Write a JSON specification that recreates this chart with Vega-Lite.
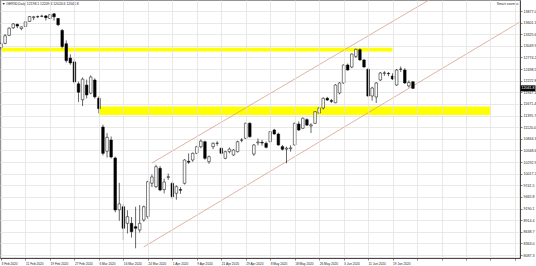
{
  "$schema": "https://vega.github.io/schema/vega-lite/v6.json",
  "width": 520,
  "height": 258,
  "autosize": {"type": "none"},
  "padding": {"left": 0, "top": 0, "right": 16, "bottom": 8},
  "background": "white",
  "config": {
    "font": "Liberation Sans",
    "view": {"stroke": "#555555", "strokeWidth": 0.8},
    "axis": {"gridColor": "#e3e3e3", "gridWidth": 0.8, "domainColor": "#333333", "domainWidth": 0.8, "tickColor": "#333333", "tickWidth": 0.6, "labelColor": "#222222", "title": null}
  },
  "datasets": {
    "ohlc": [
      {"d":"2020-02-03","o":13010,"h":13130,"l":12960,"c":13100},
      {"d":"2020-02-04","o":13110,"h":13330,"l":13090,"c":13290},
      {"d":"2020-02-05","o":13300,"h":13490,"l":13280,"c":13470},
      {"d":"2020-02-06","o":13480,"h":13590,"l":13450,"c":13570},
      {"d":"2020-02-07","o":13560,"h":13580,"l":13470,"c":13520},
      {"d":"2020-02-10","o":13460,"h":13510,"l":13420,"c":13500},
      {"d":"2020-02-11","o":13510,"h":13640,"l":13500,"c":13620},
      {"d":"2020-02-12","o":13630,"h":13760,"l":13620,"c":13745},
      {"d":"2020-02-13","o":13720,"h":13760,"l":13660,"c":13740},
      {"d":"2020-02-14","o":13740,"h":13770,"l":13710,"c":13745},
      {"d":"2020-02-17","o":13750,"h":13790,"l":13730,"c":13755},
      {"d":"2020-02-18","o":13760,"h":13780,"l":13650,"c":13720},
      {"d":"2020-02-19","o":13700,"h":13800,"l":13690,"c":13790},
      {"d":"2020-02-20","o":13810,"h":13825,"l":13650,"c":13740},
      {"d":"2020-02-21","o":13700,"h":13710,"l":13520,"c":13550},
      {"d":"2020-02-24","o":13416,"h":13450,"l":12990,"c":13035},
      {"d":"2020-02-25","o":13100,"h":13180,"l":12650,"c":12700},
      {"d":"2020-02-26","o":12760,"h":12850,"l":12600,"c":12645},
      {"d":"2020-02-27","o":12670,"h":12740,"l":12150,"c":12195},
      {"d":"2020-02-28","o":12150,"h":12200,"l":11720,"c":11950},
      {"d":"2020-03-02","o":11770,"h":12300,"l":11620,"c":12260},
      {"d":"2020-03-03","o":12120,"h":12250,"l":11800,"c":11885},
      {"d":"2020-03-04","o":11930,"h":12350,"l":11900,"c":12310},
      {"d":"2020-03-05","o":12240,"h":12280,"l":11800,"c":11840},
      {"d":"2020-03-06","o":11810,"h":11850,"l":11450,"c":11560},
      {"d":"2020-03-09","o":11124,"h":11180,"l":10450,"c":10500},
      {"d":"2020-03-10","o":10550,"h":10980,"l":10400,"c":10880},
      {"d":"2020-03-11","o":10817,"h":10900,"l":10380,"c":10413},
      {"d":"2020-03-12","o":10390,"h":10420,"l":9100,"c":9156},
      {"d":"2020-03-13","o":9160,"h":9800,"l":8900,"c":9300},
      {"d":"2020-03-16","o":9234,"h":9300,"l":8444,"c":8722},
      {"d":"2020-03-17","o":8840,"h":9150,"l":8600,"c":8997},
      {"d":"2020-03-18","o":8840,"h":8990,"l":8500,"c":8641},
      {"d":"2020-03-19","o":8760,"h":9234,"l":8247,"c":8722},
      {"d":"2020-03-20","o":8682,"h":9274,"l":8620,"c":8840},
      {"d":"2020-03-23","o":8919,"h":9260,"l":8880,"c":9234},
      {"d":"2020-03-24","o":8997,"h":9850,"l":8950,"c":9827},
      {"d":"2020-03-25","o":9790,"h":10000,"l":9700,"c":9940},
      {"d":"2020-03-26","o":9709,"h":10230,"l":9680,"c":10183},
      {"d":"2020-03-27","o":10145,"h":10200,"l":9600,"c":9630},
      {"d":"2020-03-30","o":9640,"h":9900,"l":9550,"c":9820},
      {"d":"2020-03-31","o":9930,"h":10020,"l":9870,"c":9946},
      {"d":"2020-04-01","o":9789,"h":9830,"l":9420,"c":9471},
      {"d":"2020-04-02","o":9552,"h":9740,"l":9400,"c":9709},
      {"d":"2020-04-03","o":9640,"h":9700,"l":9540,"c":9625},
      {"d":"2020-04-06","o":9789,"h":10360,"l":9760,"c":10342},
      {"d":"2020-04-07","o":10310,"h":10500,"l":10250,"c":10290},
      {"d":"2020-04-08","o":10342,"h":10520,"l":10300,"c":10501},
      {"d":"2020-04-09","o":10501,"h":10680,"l":10480,"c":10658},
      {"d":"2020-04-14","o":10658,"h":10830,"l":10620,"c":10790},
      {"d":"2020-04-15","o":10776,"h":10800,"l":10350,"c":10382},
      {"d":"2020-04-16","o":10302,"h":10450,"l":10250,"c":10420},
      {"d":"2020-04-17","o":10658,"h":10760,"l":10600,"c":10738},
      {"d":"2020-04-20","o":10738,"h":10790,"l":10680,"c":10740},
      {"d":"2020-04-21","o":10620,"h":10650,"l":10480,"c":10501},
      {"d":"2020-04-22","o":10382,"h":10560,"l":10360,"c":10539},
      {"d":"2020-04-23","o":10540,"h":10640,"l":10500,"c":10600},
      {"d":"2020-04-24","o":10461,"h":10600,"l":10440,"c":10579},
      {"d":"2020-04-27","o":10539,"h":10800,"l":10520,"c":10776},
      {"d":"2020-04-28","o":10810,"h":10860,"l":10760,"c":10817},
      {"d":"2020-04-29","o":10857,"h":11230,"l":10840,"c":11213},
      {"d":"2020-04-30","o":11213,"h":11240,"l":10870,"c":10895},
      {"d":"2020-05-04","o":10484,"h":10720,"l":10440,"c":10698},
      {"d":"2020-05-05","o":10750,"h":10850,"l":10690,"c":10770},
      {"d":"2020-05-06","o":10760,"h":10820,"l":10680,"c":10745},
      {"d":"2020-05-07","o":10738,"h":10780,"l":10620,"c":10643},
      {"d":"2020-05-08","o":10776,"h":11030,"l":10760,"c":11013},
      {"d":"2020-05-11","o":11054,"h":11080,"l":10940,"c":10959},
      {"d":"2020-05-12","o":10959,"h":10990,"l":10680,"c":10698},
      {"d":"2020-05-13","o":10658,"h":10700,"l":10570,"c":10596},
      {"d":"2020-05-14","o":10600,"h":10660,"l":10264,"c":10620},
      {"d":"2020-05-15","o":10610,"h":10690,"l":10540,"c":10630},
      {"d":"2020-05-18","o":10698,"h":11230,"l":10690,"c":11213},
      {"d":"2020-05-19","o":11196,"h":11260,"l":11030,"c":11054},
      {"d":"2020-05-20","o":11094,"h":11350,"l":11080,"c":11331},
      {"d":"2020-05-21","o":11300,"h":11330,"l":11150,"c":11170},
      {"d":"2020-05-22","o":11150,"h":11213,"l":10983,"c":11175},
      {"d":"2020-05-25","o":11213,"h":11500,"l":11200,"c":11488},
      {"d":"2020-05-26","o":11457,"h":11600,"l":11440,"c":11576},
      {"d":"2020-05-27","o":11576,"h":11830,"l":11540,"c":11806},
      {"d":"2020-05-28","o":11806,"h":11840,"l":11740,"c":11766},
      {"d":"2020-05-29","o":11750,"h":11790,"l":11694,"c":11735},
      {"d":"2020-06-01","o":11700,"h":12140,"l":11690,"c":12121},
      {"d":"2020-06-02","o":11932,"h":12190,"l":11900,"c":12169},
      {"d":"2020-06-03","o":12169,"h":12610,"l":12150,"c":12596},
      {"d":"2020-06-04","o":12596,"h":12630,"l":12460,"c":12477},
      {"d":"2020-06-05","o":12548,"h":12870,"l":12520,"c":12857},
      {"d":"2020-06-08","o":12800,"h":12985,"l":12760,"c":12968},
      {"d":"2020-06-09","o":12960,"h":12990,"l":12700,"c":12715},
      {"d":"2020-06-10","o":12715,"h":12740,"l":12530,"c":12548},
      {"d":"2020-06-11","o":12494,"h":12520,"l":11840,"c":11860},
      {"d":"2020-06-12","o":11860,"h":12080,"l":11750,"c":12050},
      {"d":"2020-06-15","o":11837,"h":12190,"l":11694,"c":12169},
      {"d":"2020-06-16","o":12240,"h":12430,"l":12220,"c":12406},
      {"d":"2020-06-17","o":12400,"h":12450,"l":12340,"c":12408},
      {"d":"2020-06-18","o":12395,"h":12430,"l":12330,"c":12390},
      {"d":"2020-06-19","o":12335,"h":12400,"l":12240,"c":12264},
      {"d":"2020-06-22","o":12121,"h":12500,"l":12100,"c":12477},
      {"d":"2020-06-23","o":12500,"h":12560,"l":12430,"c":12495},
      {"d":"2020-06-24","o":12477,"h":12520,"l":12150,"c":12169},
      {"d":"2020-06-25","o":12100,"h":12230,"l":12060,"c":12180},
      {"d":"2020-06-26","o":12198.1,"h":12209.4,"l":12024.6,"c":12041.8}
    ],
    "zones": [
      {"d":"2020-02-03","d2":"2020-06-19","y":12916,"y2":13006},
      {"d":"2020-03-06","d2":"2020-07-23","y":11410,"y2":11611}
    ],
    "channel": [
      {"d":"2020-03-25","d2":"2020-07-21","y":10271,"y2":14880},
      {"d":"2020-03-23","d2":"2020-08-03","y":8280,"y2":13604}
    ]
  },
  "layer": [
    {
      "data": {"name": "zones"},
      "mark": {"type": "rect", "color": "#ffff00", "opacity": 1},
      "encoding": {
        "x": {"field": "d", "type": "ordinal",
          "scale": {"type": "point", "padding": 0.245, "domain": ["2020-02-03","2020-02-04","2020-02-05","2020-02-06","2020-02-07","2020-02-10","2020-02-11","2020-02-12","2020-02-13","2020-02-14","2020-02-17","2020-02-18","2020-02-19","2020-02-20","2020-02-21","2020-02-24","2020-02-25","2020-02-26","2020-02-27","2020-02-28","2020-03-02","2020-03-03","2020-03-04","2020-03-05","2020-03-06","2020-03-09","2020-03-10","2020-03-11","2020-03-12","2020-03-13","2020-03-16","2020-03-17","2020-03-18","2020-03-19","2020-03-20","2020-03-23","2020-03-24","2020-03-25","2020-03-26","2020-03-27","2020-03-30","2020-03-31","2020-04-01","2020-04-02","2020-04-03","2020-04-06","2020-04-07","2020-04-08","2020-04-09","2020-04-14","2020-04-15","2020-04-16","2020-04-17","2020-04-20","2020-04-21","2020-04-22","2020-04-23","2020-04-24","2020-04-27","2020-04-28","2020-04-29","2020-04-30","2020-05-04","2020-05-05","2020-05-06","2020-05-07","2020-05-08","2020-05-11","2020-05-12","2020-05-13","2020-05-14","2020-05-15","2020-05-18","2020-05-19","2020-05-20","2020-05-21","2020-05-22","2020-05-25","2020-05-26","2020-05-27","2020-05-28","2020-05-29","2020-06-01","2020-06-02","2020-06-03","2020-06-04","2020-06-05","2020-06-08","2020-06-09","2020-06-10","2020-06-11","2020-06-12","2020-06-15","2020-06-16","2020-06-17","2020-06-18","2020-06-19","2020-06-22","2020-06-23","2020-06-24","2020-06-25","2020-06-26","2020-06-29","2020-06-30","2020-07-01","2020-07-02","2020-07-03","2020-07-06","2020-07-07","2020-07-08","2020-07-09","2020-07-10","2020-07-13","2020-07-14","2020-07-15","2020-07-16","2020-07-17","2020-07-20","2020-07-21","2020-07-22","2020-07-23","2020-07-24","2020-07-27","2020-07-28","2020-07-29","2020-07-30","2020-07-31","2020-08-03"]},
          "axis": {"title": null, "orient": "bottom", "values": ["2020-02-03","2020-02-11","2020-02-19","2020-02-27","2020-03-06","2020-03-16","2020-03-24","2020-04-01","2020-04-09","2020-04-21","2020-04-29","2020-05-08","2020-05-18","2020-05-26","2020-06-03","2020-06-11","2020-06-19","2020-06-29","2020-07-07","2020-07-15","2020-07-23","2020-07-31"],
            "labelExpr": "datum.value <= '2020-06-19' ? utcFormat(toDate(datum.value), '%-d %b %Y') : ''",
            "labelAlign": "left", "labelAngle": 0, "labelFontSize": 3.2, "labelPadding": 1, "tickSize": 2, "grid": true, "labelOverlap": false, "labelBound": false, "labelFlush": false}},
        "x2": {"field": "d2"},
        "y": {"field": "y", "type": "quantitative",
          "scale": {"domain": [8017, 14138], "nice": false, "zero": false},
          "axis": {"title": null, "orient": "right", "tickCount": 40, "values": [13877.0,13601.3,13325.6,13049.9,12774.2,12498.5,12222.8,11947.1,11671.4,11395.7,11120.0,10844.3,10568.6,10292.9,10017.2,9741.5,9465.8,9190.1,8914.4,8638.7,8363.0,8087.3],
            "format": ".1f", "labelFontSize": 3.6, "labelPadding": 1, "tickSize": 2, "grid": true, "labelOverlap": false, "labelBound": false, "labelFlush": false}},
        "y2": {"field": "y2"}
      }
    },
    {
      "data": {"name": "channel"},
      "mark": {"type": "rule", "color": "#d9a08e", "strokeWidth": 0.8, "clip": true},
      "encoding": {
        "x": {"field": "d", "type": "ordinal", "axis": {"title": null, "orient": "bottom", "values": ["2020-02-03","2020-02-11","2020-02-19","2020-02-27","2020-03-06","2020-03-16","2020-03-24","2020-04-01","2020-04-09","2020-04-21","2020-04-29","2020-05-08","2020-05-18","2020-05-26","2020-06-03","2020-06-11","2020-06-19","2020-06-29","2020-07-07","2020-07-15","2020-07-23","2020-07-31"],
            "labelExpr": "datum.value <= '2020-06-19' ? utcFormat(toDate(datum.value), '%-d %b %Y') : ''",
            "labelAlign": "left", "labelAngle": 0, "labelFontSize": 3.2, "labelPadding": 1, "tickSize": 2, "grid": true, "labelOverlap": false, "labelBound": false, "labelFlush": false}},
        "x2": {"field": "d2"},
        "y": {"field": "y", "type": "quantitative", "axis": {"title": null, "orient": "right", "tickCount": 40, "values": [13877.0,13601.3,13325.6,13049.9,12774.2,12498.5,12222.8,11947.1,11671.4,11395.7,11120.0,10844.3,10568.6,10292.9,10017.2,9741.5,9465.8,9190.1,8914.4,8638.7,8363.0,8087.3],
            "format": ".1f", "labelFontSize": 3.6, "labelPadding": 1, "tickSize": 2, "grid": true, "labelOverlap": false, "labelBound": false, "labelFlush": false}},
        "y2": {"field": "y2"}
      }
    },
    {
      "data": {"name": "ohlc"},
      "mark": {"type": "rule", "color": "black", "strokeWidth": 0.6},
      "encoding": {
        "x": {"field": "d", "type": "ordinal", "axis": {"title": null, "orient": "bottom", "values": ["2020-02-03","2020-02-11","2020-02-19","2020-02-27","2020-03-06","2020-03-16","2020-03-24","2020-04-01","2020-04-09","2020-04-21","2020-04-29","2020-05-08","2020-05-18","2020-05-26","2020-06-03","2020-06-11","2020-06-19","2020-06-29","2020-07-07","2020-07-15","2020-07-23","2020-07-31"],
            "labelExpr": "datum.value <= '2020-06-19' ? utcFormat(toDate(datum.value), '%-d %b %Y') : ''",
            "labelAlign": "left", "labelAngle": 0, "labelFontSize": 3.2, "labelPadding": 1, "tickSize": 2, "grid": true, "labelOverlap": false, "labelBound": false, "labelFlush": false}},
        "y": {"field": "l", "type": "quantitative", "axis": {"title": null, "orient": "right", "tickCount": 40, "values": [13877.0,13601.3,13325.6,13049.9,12774.2,12498.5,12222.8,11947.1,11671.4,11395.7,11120.0,10844.3,10568.6,10292.9,10017.2,9741.5,9465.8,9190.1,8914.4,8638.7,8363.0,8087.3],
            "format": ".1f", "labelFontSize": 3.6, "labelPadding": 1, "tickSize": 2, "grid": true, "labelOverlap": false, "labelBound": false, "labelFlush": false}},
        "y2": {"field": "h"}
      }
    },
    {
      "data": {"name": "ohlc"},
      "mark": {"type": "bar", "size": 2.6, "stroke": "black", "strokeWidth": 0.5},
      "encoding": {
        "x": {"field": "d", "type": "ordinal", "axis": {"title": null, "orient": "bottom", "values": ["2020-02-03","2020-02-11","2020-02-19","2020-02-27","2020-03-06","2020-03-16","2020-03-24","2020-04-01","2020-04-09","2020-04-21","2020-04-29","2020-05-08","2020-05-18","2020-05-26","2020-06-03","2020-06-11","2020-06-19","2020-06-29","2020-07-07","2020-07-15","2020-07-23","2020-07-31"],
            "labelExpr": "datum.value <= '2020-06-19' ? utcFormat(toDate(datum.value), '%-d %b %Y') : ''",
            "labelAlign": "left", "labelAngle": 0, "labelFontSize": 3.2, "labelPadding": 1, "tickSize": 2, "grid": true, "labelOverlap": false, "labelBound": false, "labelFlush": false}},
        "y": {"field": "o", "type": "quantitative", "axis": {"title": null, "orient": "right", "tickCount": 40, "values": [13877.0,13601.3,13325.6,13049.9,12774.2,12498.5,12222.8,11947.1,11671.4,11395.7,11120.0,10844.3,10568.6,10292.9,10017.2,9741.5,9465.8,9190.1,8914.4,8638.7,8363.0,8087.3],
            "format": ".1f", "labelFontSize": 3.6, "labelPadding": 1, "tickSize": 2, "grid": true, "labelOverlap": false, "labelBound": false, "labelFlush": false}},
        "y2": {"field": "c"},
        "color": {"condition": {"test": "datum.c >= datum.o", "value": "white"}, "value": "black"}
      }
    },
    {
      "data": {"values": [{"c": 12041.8}]},
      "mark": {"type": "tick", "orient": "horizontal", "size": 15, "thickness": 6, "color": "black", "xOffset": 8, "opacity": 1},
      "encoding": {
        "x": {"value": "width"},
        "y": {"field": "c", "type": "quantitative", "axis": {"title": null, "orient": "right", "tickCount": 40, "values": [13877.0,13601.3,13325.6,13049.9,12774.2,12498.5,12222.8,11947.1,11671.4,11395.7,11120.0,10844.3,10568.6,10292.9,10017.2,9741.5,9465.8,9190.1,8914.4,8638.7,8363.0,8087.3],
            "format": ".1f", "labelFontSize": 3.6, "labelPadding": 1, "tickSize": 2, "grid": true, "labelOverlap": false, "labelBound": false, "labelFlush": false}}
      }
    },
    {
      "data": {"values": [{"c": 12041.8}]},
      "mark": {"type": "text", "align": "left", "baseline": "middle", "dx": 1.5, "fontSize": 3.6, "color": "white"},
      "encoding": {
        "x": {"value": "width"},
        "y": {"field": "c", "type": "quantitative", "axis": {"title": null, "orient": "right", "tickCount": 40, "values": [13877.0,13601.3,13325.6,13049.9,12774.2,12498.5,12222.8,11947.1,11671.4,11395.7,11120.0,10844.3,10568.6,10292.9,10017.2,9741.5,9465.8,9190.1,8914.4,8638.7,8363.0,8087.3],
            "format": ".1f", "labelFontSize": 3.6, "labelPadding": 1, "tickSize": 2, "grid": true, "labelOverlap": false, "labelBound": false, "labelFlush": false}},
        "text": {"field": "c", "type": "quantitative", "format": ".1f"}
      }
    },
    {
      "data": {"values": [{}]},
      "mark": {"type": "text", "text": "▼ GER30,Daily  12198.1 12209.4 12024.6 12041.8", "align": "left", "baseline": "top", "dx": 1, "dy": 1.5, "fontSize": 3.4, "color": "#222222"},
      "encoding": {
        "x": {"datum": "2020-02-03"},
        "y": {"datum": 14138}
      }
    },
    {
      "data": {"values": [{}]},
      "mark": {"type": "text", "text": "Smart zoom ⊡", "align": "right", "baseline": "top", "dx": 0, "dy": 1.5, "fontSize": 3.4, "color": "#333333"},
      "encoding": {
        "x": {"datum": "2020-08-03"},
        "y": {"datum": 14138}
      }
    }
  ]
}
